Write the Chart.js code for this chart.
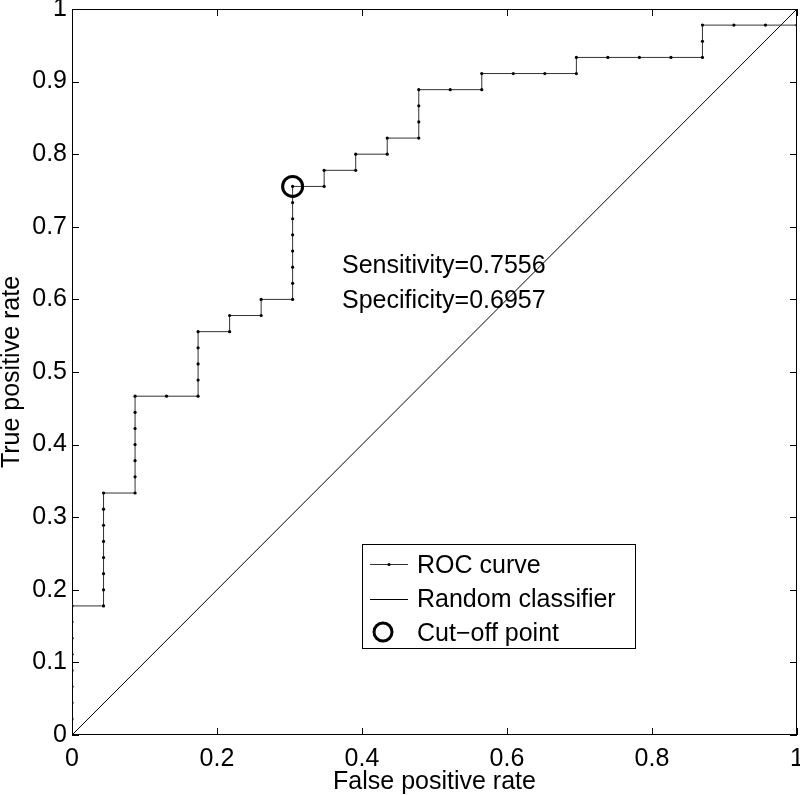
<!DOCTYPE html>
<html>
<head>
<meta charset="utf-8">
<script src="https://cdn.jsdelivr.net/npm/chart.js@4.4.0/dist/chart.umd.min.js"></script>
<style>
  html, body { margin: 0; padding: 0; background: #fff; }
  #wrap { width: 800px; height: 795px; }
</style>
</head>
<body>
<div id="wrap"><canvas id="roc" width="800" height="795"></canvas></div>
<script>
// ROC curve points
var fpr = [0, 0, 0, 0, 0, 0, 0, 0, 0,
  0.0435, 0.0435, 0.0435, 0.0435, 0.0435, 0.0435, 0.0435, 0.0435,
  0.0870, 0.0870, 0.0870, 0.0870, 0.0870, 0.0870, 0.0870,
  0.1304,
  0.1739, 0.1739, 0.1739, 0.1739, 0.1739,
  0.2174, 0.2174,
  0.2609, 0.2609,
  0.3043, 0.3043, 0.3043, 0.3043, 0.3043, 0.3043, 0.3043, 0.3043,
  0.3478, 0.3478,
  0.3913, 0.3913,
  0.4348, 0.4348,
  0.4783, 0.4783, 0.4783, 0.4783,
  0.5217,
  0.5652, 0.5652,
  0.6087, 0.6522, 0.6957, 0.6957,
  0.7391, 0.7826, 0.8261, 0.8696, 0.8696, 0.8696,
  0.9130, 0.9565, 1, 1];
var tpr = [0, 0.0222, 0.0444, 0.0667, 0.0889, 0.1111, 0.1333, 0.1556, 0.1778,
  0.1778, 0.2, 0.2222, 0.2444, 0.2667, 0.2889, 0.3111, 0.3333,
  0.3333, 0.3556, 0.3778, 0.4, 0.4222, 0.4444, 0.4667,
  0.4667,
  0.4667, 0.4889, 0.5111, 0.5333, 0.5556,
  0.5556, 0.5778,
  0.5778, 0.6,
  0.6, 0.6222, 0.6444, 0.6667, 0.6889, 0.7111, 0.7333, 0.7556,
  0.7556, 0.7778,
  0.7778, 0.8,
  0.8, 0.8222,
  0.8222, 0.8444, 0.8667, 0.8889,
  0.8889,
  0.8889, 0.9111,
  0.9111, 0.9111, 0.9111, 0.9333,
  0.9333, 0.9333, 0.9333, 0.9333, 0.9556, 0.9778,
  0.9778, 0.9778, 0.9778, 1];

// random classifier
var randX = [0, 1];
var randY = [0, 1];

// cut-off point
var cutX = [0.3043];
var cutY = [0.7556];

var sensText = 'Sensitivity=0.7556';
var specText = 'Specificity=0.6957';
var legendLabels = ['ROC curve', 'Random classifier', 'Cut\u2212off point'];

var xTicks = [0, 0.2, 0.4, 0.6, 0.8, 1];
var yTicks = [0, 0.1, 0.2, 0.3, 0.4, 0.5, 0.6, 0.7, 0.8, 0.9, 1];

var FONT = '"Liberation Sans", Arial, sans-serif';
var FSIZE = 25;

function toPoints(xs, ys) {
  return xs.map((x, i) => ({ x: x, y: ys[i] }));
}

//frame, inward ticks, text and legend
var extras = {
  id: 'extras',
  afterDraw: function (chart) {
    var ctx = chart.ctx;
    var ca = chart.chartArea;
    var sx = chart.scales.x;
    var sy = chart.scales.y;
    ctx.save();

    //box
    ctx.strokeStyle = '#000';
    ctx.lineWidth = 1;
    ctx.strokeRect(ca.left + 0.5, ca.top + 0.5, ca.right - ca.left - 1, ca.bottom - ca.top - 1);

    //ticks pointing in
    ctx.beginPath();
    xTicks.forEach(v => {
      var px = Math.round(sx.getPixelForValue(v)) + 0.5;
      ctx.moveTo(px, ca.bottom); ctx.lineTo(px, ca.bottom - 7);
      ctx.moveTo(px, ca.top); ctx.lineTo(px, ca.top + 7);
    });
    yTicks.forEach(v => {
      var py = Math.round(sy.getPixelForValue(v)) + 0.5;
      ctx.moveTo(ca.left, py); ctx.lineTo(ca.left + 7, py);
      ctx.moveTo(ca.right, py); ctx.lineTo(ca.right - 7, py);
    });
    ctx.stroke();

    //sensitivity / specificity
    ctx.fillStyle = '#000';
    ctx.font = FSIZE + 'px ' + FONT;
    ctx.textBaseline = 'alphabetic';
    ctx.textAlign = 'left';
    ctx.fillText(sensText, sx.getPixelForValue(0.3724), sy.getPixelForValue(0.636));
    ctx.fillText(specText, sx.getPixelForValue(0.3724), sy.getPixelForValue(0.588));

    //legend box
    var lx = Math.round(sx.getPixelForValue(0.4));
    var rx = Math.round(sx.getPixelForValue(0.7766));
    var ty = Math.round(sy.getPixelForValue(0.263));
    var by = Math.round(sy.getPixelForValue(0.12));
    ctx.fillStyle = '#fff';
    ctx.fillRect(lx, ty, rx - lx, by - ty);
    ctx.strokeStyle = '#000';
    ctx.lineWidth = 1;
    ctx.strokeRect(lx + 0.5, ty + 0.5, rx - lx, by - ty);

    var rows = [ty + 29, ty + 63, ty + 97];
    ctx.fillStyle = '#000';
    legendLabels.forEach((t, i) => {
      ctx.fillText(t, lx + 55, rows[i]);
    });
    //roc sample
    ctx.strokeStyle = '#333';
    ctx.beginPath();
    ctx.moveTo(lx + 8, ty + 20.5);
    ctx.lineTo(lx + 46, ty + 20.5);
    ctx.stroke();
    ctx.fillStyle = '#000';
    ctx.beginPath();
    ctx.arc(lx + 27, ty + 20.5, 1.6, 0, Math.PI * 2);
    ctx.fill();
    //random sample
    ctx.strokeStyle = '#000';
    ctx.beginPath();
    ctx.moveTo(lx + 8, ty + 55.5);
    ctx.lineTo(lx + 46, ty + 55.5);
    ctx.stroke();
    //cut-off sample
    ctx.lineWidth = 3;
    ctx.beginPath();
    ctx.arc(lx + 21, ty + 88, 9, 0, Math.PI * 2);
    ctx.stroke();

    ctx.restore();
  }
};

var datasets = [{
    label: legendLabels[0],
    data: toPoints(fpr, tpr),
    showLine: true,
    borderColor: '#333',
    borderWidth: 1,
    pointRadius: 1.6,
    pointBackgroundColor: '#000',
    pointBorderWidth: 0,
    order: 2
  },
  {
    label: legendLabels[1],
    data: toPoints(randX, randY),
    showLine: true,
    borderColor: '#000',
    borderWidth: 1,
    pointRadius: 0,
    order: 3
  },
  {
    label: legendLabels[2],
    data: toPoints(cutX, cutY),
    showLine: false,
    pointStyle: 'circle',
    pointRadius: 10,
    pointBorderWidth: 3,
    pointBorderColor: '#000',
    pointBackgroundColor: 'rgba(0,0,0,0)',
    order: 1
  }
];

var fmt = (v) => String(Number(v.toFixed(1)));

//keep the tick labels from pushing the plot area in
var noPad = (s) => {
  s.paddingLeft = 0;
  s.paddingRight = 0;
  s.paddingTop = 0;
  s.paddingBottom = 0;
};

var options = {
  responsive: false,
  animation: false,
  devicePixelRatio: 1,
  layout: { autoPadding: false, padding: { top: 9, right: 3, left: 0, bottom: 0 } },
  plugins: {
    legend: { display: false },
    tooltip: { enabled: false }
  },
  scales: {
    x: {
      type: 'linear',
      min: 0,
      max: 1,
      afterBuildTicks: (s) => { s.ticks = xTicks.map(v => ({ value: v })); },
      afterFit: (s) => { s.height = 60; noPad(s); },
      grid: { display: false, drawTicks: false },
      border: { display: false },
      ticks: { color: '#000', padding: 9, maxRotation: 0, autoSkip: false, font: { family: FONT, size: FSIZE }, callback: fmt },
      title: { display: true, text: 'False positive rate', color: '#000', padding: 0, font: { family: FONT, size: FSIZE, lineHeight: 1 } }
    },
    y: {
      type: 'linear',
      min: 0,
      max: 1,
      afterBuildTicks: (s) => { s.ticks = yTicks.map(v => ({ value: v })); },
      afterFit: (s) => { s.width = 72; noPad(s); },
      grid: { display: false, drawTicks: false },
      border: { display: false },
      ticks: { color: '#000', padding: 5, autoSkip: false, font: { family: FONT, size: FSIZE }, callback: fmt },
      title: { display: true, text: 'True positive rate', color: '#000', padding: 0, font: { family: FONT, size: FSIZE, lineHeight: 1 } }
    }
  }
};

var config = {
  type: 'scatter',
  data: { datasets: datasets },
  options: options,
  plugins: [extras]
};

var chart = new Chart(document.getElementById('roc'), config);
</script>
</body>
</html>
